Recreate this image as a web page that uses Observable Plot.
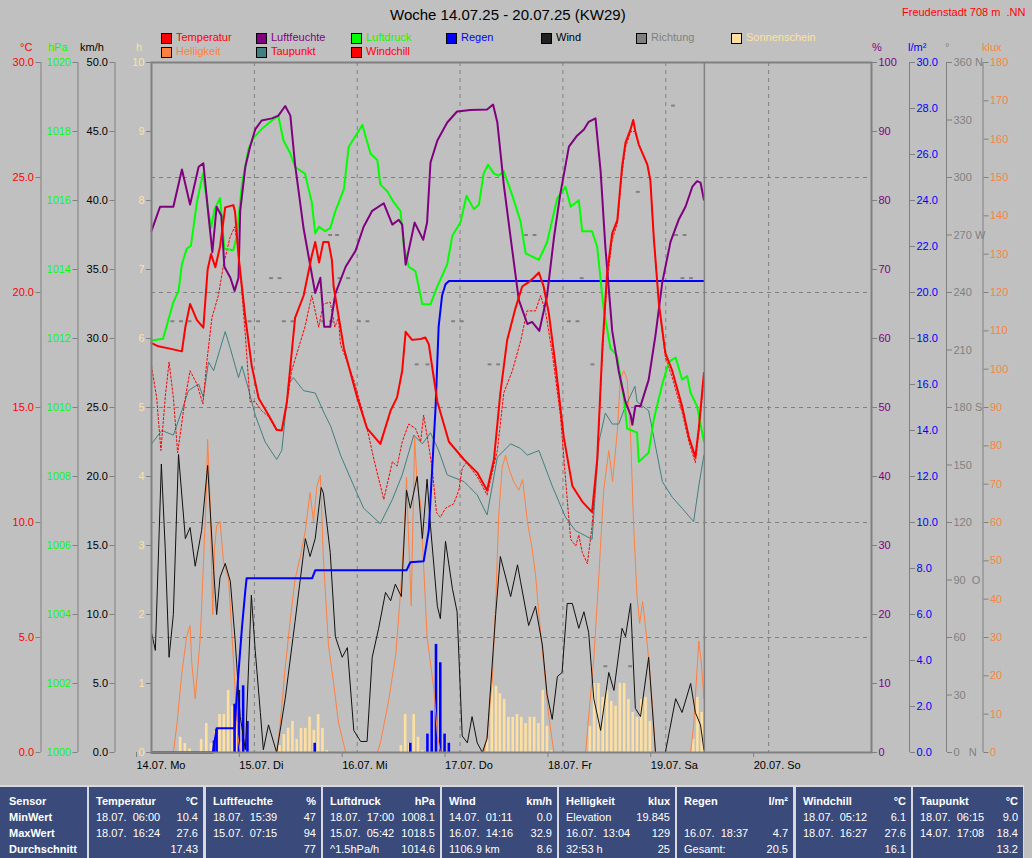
<!DOCTYPE html>
<html><head><meta charset="utf-8">
<script src="https://cdn.jsdelivr.net/npm/d3@7"></script>
<script src="https://cdn.jsdelivr.net/npm/@observablehq/plot@0.6"></script>
<style>
html,body{margin:0;padding:0;background:#c0c0c0;}
#wrap{position:relative;width:1032px;height:858px;overflow:hidden;font-family:"Liberation Sans",Arial,sans-serif;background:#c0c0c0;}
#wrap svg{position:absolute;left:0;top:0;display:block;}
.t{position:absolute;white-space:pre;font-size:11px;line-height:12px;}
.sq{position:absolute;width:9px;height:9px;border:1px solid #000;}
.cell{position:absolute;top:787px;height:71px;background:#3a4a7a;}
.tc{position:absolute;white-space:pre;font-size:11px;line-height:12px;color:#fff;}
</style></head><body><div id="wrap"></div>
<script>
// ---------------- DATA ----------------
const dayLabels = ["14.07. Mo","15.07. Di","16.07. Mi","17.07. Do","18.07. Fr","19.07. Sa","20.07. So"];
const dayTicks = [0,24,48,72,96,120,144];
const nowHour = 129;

// [hour since 14.07. 00:00, value]
const temperature = [[0,17.8],[1.6,17.66],[4,17.57],[7.1,17.44],[7.9,18.5],[9,19.5],[10.6,18.8],[12.1,18.47],[13.1,21.0],[13.9,21.67],[14.9,21.1],[16,22.0],[17.2,23.7],[19.1,23.8],[19.5,23.5],[20.3,21.6],[21.9,18.9],[23.4,16.8],[25,15.4],[27.3,14.67],[29.2,14.03],[30.4,14.0],[31.6,15.25],[33.5,18.9],[35.5,19.87],[37.4,21.6],[38.2,22.2],[39.1,21.3],[40.1,22.2],[41.3,22.2],[42.1,21.4],[42.5,20.26],[44.9,17.57],[48,15.44],[50.3,14.09],[53.4,13.42],[55.8,14.87],[57.3,15.44],[58.5,16.6],[59.3,18.29],[60.8,17.94],[62.8,17.98],[63.9,18.04],[64.7,17.75],[66.7,15.25],[69.4,13.51],[72.9,12.74],[76,12.17],[78.3,11.39],[79.9,12.74],[81.4,15.63],[83,17.94],[84.9,19.3],[86.5,20.26],[88,20.45],[89.2,20.64],[90.4,20.87],[91.5,20.26],[92.7,19.1],[94.3,16.8],[96.2,13.7],[98.2,11.59],[100.5,10.91],[102.8,10.45],[104,12.74],[105.2,17.57],[106.3,20.83],[107.5,22.57],[108.7,23.15],[109.8,25.46],[110.6,26.52],[111.8,27.1],[112.4,27.5],[112.9,27.0],[113.7,26.43],[115.7,25.56],[116.4,24.88],[117.2,22.38],[118.4,19.49],[119.9,17.37],[121.5,16.6],[123.8,15.06],[125.4,13.7],[126.9,12.84],[127.7,14.09],[128.9,16.5]];

const windchill = [[0,16.8],[1.2,15.44],[2.2,13.13],[3.2,15.44],[4.1,16.98],[5.1,15.44],[6.1,13.03],[7.9,15.44],[9,16.6],[10.6,16.02],[12,15.15],[12.9,16.98],[14.1,18.9],[15.6,19.87],[16.8,21.2],[18.3,22.38],[19.4,22.86],[20.3,21.8],[21.9,18.14],[23,15.25],[24.2,15.25],[25.7,14.86],[27.3,14.6],[29.2,14.0],[30.4,14.0],[31.6,15.2],[32.7,16.6],[35.8,18.5],[37.4,19.87],[39,18.5],[40.1,19.5],[41.7,19.58],[42.8,18.5],[43.6,18.9],[44.1,17.75],[47.2,16.2],[50.3,14.09],[51.9,12.74],[54.2,11.0],[56.2,12.64],[57.3,12.45],[58.5,13.51],[60,14.28],[61.6,14.09],[62.8,13.51],[63.5,14.67],[64.7,13.32],[65.5,12.36],[66.5,10.43],[67.4,10.23],[68.6,10.62],[70.5,10.81],[71.7,11.39],[72.5,12.36],[73.5,12.6],[76,12.0],[78.3,11.2],[80.7,13.13],[82.2,15.63],[84.2,16.6],[86.2,17.94],[87.6,19.2],[89.6,19.2],[90.8,19.87],[92,19.1],[93.5,17.37],[95.4,14.67],[97,11.0],[97.8,9.27],[99,8.98],[99.7,9.46],[100.5,8.7],[101.7,8.21],[102.8,9.85],[104,12.74],[105.2,17.3],[106.3,20.5],[107.5,22.3],[108.7,23.0],[109.8,25.2],[110.6,26.3],[111.8,27.0],[112.9,27.0],[113.7,26.43],[115.7,25.56],[116.4,24.88],[117.2,22.38],[118.4,19.49],[119.9,17.2],[121.5,16.3],[123.8,14.8],[125.4,13.5],[126.9,12.6],[127.7,13.9],[128.9,16.3]];

const dewpoint = [[0,13.42],[2.4,14.0],[5.1,13.8],[7.1,14.87],[8.6,15.73],[11,16.02],[12.1,15.44],[13.3,16.98],[14.5,16.6],[17.2,18.3],[18.4,17.57],[20.3,16.3],[21.1,16.8],[22.6,15.83],[24.2,14.67],[26.5,13.51],[29.2,12.74],[30.4,13.13],[32,16.02],[33.1,16.3],[35.5,15.73],[38.2,15.63],[40.5,14.67],[41.8,14.19],[44.1,12.93],[47.2,11.59],[49.5,10.62],[53.4,9.95],[56.2,11.0],[58.5,12.07],[61.2,13.8],[63.2,13.42],[65.1,13.9],[67,13.13],[69,12.07],[72.9,11.78],[76,11.2],[78.3,10.33],[80.7,12.84],[83.8,13.42],[86.1,13.22],[87.7,12.93],[90.4,13.13],[93.5,11.59],[96.6,10.23],[98.9,9.65],[102.8,9.27],[104.4,13.51],[105.9,14.76],[107.5,14.28],[109,14.28],[110.6,15.06],[112.8,15.92],[113.3,15.25],[116,14.86],[119.2,11.78],[121.5,11.1],[123.8,10.62],[126.5,10.04],[127.7,11.59],[128.9,12.93]];

const humidity = [[0,75.6],[2,79.1],[5.1,79.1],[7.1,84.5],[9,79.4],[11,84.9],[12.1,85.4],[13.3,77.8],[14.2,72.5],[15.2,79.1],[16.3,77.8],[17,70.4],[18.4,68.8],[19.4,66.9],[20.3,68.8],[20.7,78.5],[21.9,84.9],[23,87.8],[24.2,90.3],[25.7,91.6],[28.1,91.9],[29.6,92.3],[31.2,93.7],[32.4,92.3],[33.5,85.2],[35.5,75.9],[37,70.7],[38.2,66.6],[39.4,68.8],[40.3,61.7],[41.7,61.7],[42.9,66.5],[45.3,70.4],[47.6,72.7],[49.5,76.2],[51.5,78.5],[54.2,79.6],[56.2,76.5],[57.7,77.2],[58.5,76.5],[59.3,70.7],[61.4,76.8],[63.4,74.3],[64.3,76.8],[65.1,85.5],[66.7,88.7],[69,91.3],[71.3,92.9],[74.4,93.1],[78.3,93.2],[79.7,93.9],[80.7,91.3],[82.2,82.3],[83.8,74.6],[85.7,65.6],[87.7,62.1],[88.8,62.4],[90.5,61.1],[92.3,66.2],[93.9,74.6],[95.4,81.0],[97.4,87.8],[99.3,89.4],[100.9,90.3],[102,91.4],[103.6,91.9],[104.8,84.2],[105.9,73.3],[107.5,61.1],[109,55.3],[110.6,50.8],[111.8,48.9],[112.2,47.5],[112.9,50.2],[114.1,50.2],[116,54.0],[117.6,60.5],[119.2,68.2],[121.1,74.0],[123,77.2],[124.6,79.1],[126.2,82.0],[127.3,82.8],[128.1,82.6],[128.9,80.1]];

const pressure = [[0,1011.94],[2.7,1011.99],[5.1,1013.05],[6.3,1013.38],[7.1,1014.15],[8.2,1014.6],[9.2,1014.69],[10.6,1015.95],[12,1016.78],[13.1,1015.82],[13.9,1015.2],[14.7,1015.75],[16,1016.07],[17,1014.6],[19.1,1014.56],[19.9,1014.98],[21.1,1016.46],[22.6,1017.49],[23.8,1017.81],[25.7,1018.07],[28.1,1018.32],[29.6,1018.45],[30.8,1017.74],[32.4,1017.36],[33.5,1016.97],[35.8,1016.78],[37.4,1015.95],[38.2,1015.05],[39.1,1015.24],[40.5,1015.11],[41.7,1015.2],[42.9,1015.69],[44.9,1016.33],[46,1017.55],[47.6,1017.87],[49.2,1018.19],[51.1,1017.36],[52.7,1017.17],[53.4,1016.46],[55,1016.27],[56.5,1015.95],[58.1,1015.69],[58.9,1014.66],[60,1014.08],[61.6,1013.95],[63.2,1012.99],[65.1,1012.99],[66.7,1013.51],[69,1014.15],[70.2,1014.98],[72.1,1015.37],[73.5,1016.14],[75.2,1015.75],[76.4,1015.88],[77.5,1016.78],[78.5,1017.04],[79.9,1016.78],[81,1016.72],[82.2,1016.85],[84.2,1016.14],[86.1,1015.4],[87.3,1014.47],[90.4,1014.28],[92.3,1014.79],[94.7,1016.07],[96.6,1016.4],[97.8,1015.82],[99.7,1016.01],[100.5,1015.11],[102.8,1015.11],[104,1014.66],[105.5,1012.86],[107.1,1011.71],[108.6,1011.51],[110.2,1010.29],[111,1009.39],[113.3,1009.27],[113.7,1008.43],[116,1008.69],[117.2,1009.65],[119.2,1010.68],[120.7,1011.32],[122.3,1011.45],[123.8,1010.81],[125,1010.91],[125.8,1010.42],[127.3,1010.04],[128.9,1009.01]];

const wind = [[0,8.7],[0.9,7.4],[2.3,20.9],[3.2,14.8],[4.1,6.9],[5.1,10.0],[6.3,21.6],[7.9,15.5],[9,16.3],[10.2,13.5],[11.7,16.1],[13.1,20.8],[14.5,13.2],[15.2,10.0],[16,12.7],[17.2,13.7],[18.4,12.4],[19.5,8.2],[20.7,2.6],[21.9,0.2],[23.3,11.4],[24.2,7.4],[25.4,2.9],[26.1,0.2],[27.3,2.0],[29.2,0],[31.2,3.9],[33.5,9.5],[35.9,15.5],[37,14.2],[38.2,15.5],[39.6,19.2],[40.1,18.8],[41.7,14.5],[42.9,8.4],[44.5,6.9],[45.7,7.6],[47.2,1.6],[48.8,0.8],[50.3,0.8],[51.5,6.9],[53,9.0],[54.6,11.6],[55.8,11.0],[56.9,12.2],[58.3,11.3],[59.5,19.0],[60.4,17.7],[62,20.0],[63.2,15.5],[64.3,19.8],[65.1,16.4],[66.7,10.6],[67.4,9.7],[68.6,15.3],[70.2,11.9],[71.3,10.2],[72.5,1.2],[73.7,0.7],[74.8,2.6],[76,0.7],[77.2,0],[78.3,1.0],[80.3,10.0],[81.4,14.2],[83.8,11.3],[85.4,13.6],[86.1,12.4],[88,9.2],[89.6,10.6],[91.2,7.8],[92.3,4.2],[93.5,2.4],[94.7,5.5],[95.8,5.8],[97,10.8],[98.2,10.8],[99.7,9.0],[100.9,10.2],[102,8.7],[103.2,3.9],[104.8,1.6],[106.7,5.8],[107.9,4.5],[109.8,9.0],[110.6,8.4],[111.8,10.8],[112.9,3.2],[114.1,2.6],[116,6.9],[117.6,0],[119.9,0],[122.3,3.9],[123.8,2.9],[125.8,5.0],[126.9,2.9],[128.1,2.0],[128.9,0.2]];

const brightness = [[0,0],[5.1,0],[5.9,7.1],[7.1,20.9],[8.2,30.2],[9,33.1],[9.4,23.3],[10.2,14.0],[11.4,30.2],[12.1,48.7],[12.7,64.9],[13.1,81.7],[13.7,64.9],[14.3,36.0],[14.7,53.3],[15.2,59.1],[16,60.3],[16.8,49.8],[18,45.2],[19.1,24.4],[20.1,4.7],[20.7,0],[29.2,0],[30,7.1],[31.2,22.1],[32.4,34.8],[33.5,45.2],[34.7,51.0],[35.9,57.9],[37,67.8],[37.8,60.3],[38.6,69.5],[39.4,72.4],[40.1,51.0],[41.3,27.9],[42.5,18],[43.6,8],[45.3,0],[52.7,0],[53.4,2.4],[55.4,14.0],[57,25.6],[58.1,41.7],[59,57.9],[59.5,71.8],[60,55.6],[60.6,38.3],[61.4,82.2],[62,69.5],[62.8,64.9],[63.5,48.7],[64.3,30.2],[65.1,23.3],[65.9,16.3],[66.7,4.7],[67.4,0],[77.5,0],[78.3,4.7],[79.5,18.6],[80.3,38.3],[81,61.4],[81.8,74.1],[82.6,77.6],[83.4,74.1],[84.5,70.7],[85.7,68.4],[86.6,71.2],[87.7,60.3],[88.8,53.3],[89.6,46.4],[90.4,36.0],[91.5,23.3],[92.7,9.4],[93.9,0],[101.3,0],[102,9.4],[103.2,24.4],[104.4,46.4],[105.5,68.4],[106.7,78.8],[107.6,70.7],[108.7,84.0],[109.4,97.3],[110.2,99.6],[111,97.3],[111.8,82.2],[112.5,59.1],[113.3,40.6],[113.9,33.7],[114.6,39.4],[115.4,31.4],[116.2,22.1],[117,10.5],[117.6,0],[125.8,0],[126.5,7.1],[127.7,29.1],[128.3,23.3],[128.9,14.0]];

const rainTotal = [[0,0],[14.3,0],[15.2,1.05],[19.4,1.05],[19.7,1.93],[20.3,3.47],[21.1,5.42],[21.9,7.06],[22.2,7.58],[37.5,7.58],[38.2,7.92],[59.5,7.92],[60.4,8.27],[63.5,8.31],[64.7,9.66],[65.5,12.36],[66.3,15.06],[67,18.52],[67.8,19.87],[68.6,20.36],[69.4,20.5],[128.9,20.5]];

const rainHourly = [[14.7,0.5],[15.3,1.0],[19.5,2.1],[20.5,2.7],[21.5,2.9],[22.5,1.35],[38.2,0.4],[60.5,0.4],[64.5,0.8],[65.5,1.8],[66.5,4.7],[67.5,3.9],[68.5,0.8],[69.5,0.4]];

const sunshine = [[6.8,0.22],[7.9,0.13],[9.0,0.05],[11.7,0.19],[12.9,0.42],[14.0,0.13],[15.0,0.3],[16.0,0.55],[17.0,0.55],[18.0,0.9],[19.0,0.67],[20.0,0.45],[21.0,0.15],
[30,0.1],[31,0.26],[32,0.35],[33,0.45],[34,0.19],[35,0.35],[36,0.35],[37,0.51],[38,0.32],[39,0.55],[40,0.35],[41,0.03],
[58.3,0.1],[59.3,0.55],[60.3,0.13],[61.3,0.55],[62.3,0.22],[63.3,0.03],
[78.4,0.19],[79.5,1.0],[80.5,0.96],[81.4,0.85],[82.4,0.77],[83.4,0.51],[84.4,0.51],[85.4,0.55],[86.4,0.51],[87.4,0.42],[88.4,0.51],[89.4,0.51],[90.4,0.42],[91.4,0.9],[92.4,0.38],[93.4,0.03],
[102.4,0.38],[103.4,1.0],[104.4,1.0],[105.4,0.8],[106.4,0.9],[107.4,0.74],[108.4,0.67],[109.4,1.0],[110.4,1.0],[111.4,0.77],[112.4,0.58],[113.4,0.51],[114.4,0.77],[115.4,0.8],[116.4,0.45],
[126.5,0.19],[127.5,0.8],[128.5,0.58]];

const direction = [[5,225],[7,225],[9,225],[23,225],[25,225],[28,247.5],[30,247.5],[31,225],[33,225],[40,225],[42,225],[41.8,270],[43.4,270],[44,247.5],[46,247.5],[48.5,225],[50.5,225],[62,202.5],[64.5,202.5],[70.5,225],[72.5,225],[79,202.5],[81,202.5],[87.5,270],[89.5,270],[97.5,225],[99.5,225],[100.5,247.5],[103,202.5],[106,45],[111.8,45],[113.6,292.5],[121.8,337.5],[122.5,270],[124.5,270],[124,247.5],[126,247.5]];

// axis tick values (in units)
const tempTicks = [0,5,10,15,20,25,30];
const presTicks = [1000,1002,1004,1006,1008,1010,1012,1014,1016,1018,1020];
const windTicks = [0,5,10,15,20,25,30,35,40,45,50];
const sunTicks = [0,1,2,3,4,5,6,7,8,9,10];
const humTicks = [0,10,20,30,40,50,60,70,80,90,100];
const rainTicks = [0,2,4,6,8,10,12,14,16,18,20,22,24,26,28,30];
const dirTicks = [0,30,60,90,120,150,180,210,240,270,300,330,360];
const dirNames = {0:"0\u00a0\u00a0\u00a0N",90:"90\u00a0\u00a0O",180:"180\u00a0S",270:"270\u00a0W",360:"360\u00a0N"};
const luxTicks = [0,10,20,30,40,50,60,70,80,90,100,110,120,130,140,150,160,170,180];

// table
const tableHead = [["Sensor",""],["Temperatur","°C"],["Luftfeuchte","%"],["Luftdruck","hPa"],["Wind","km/h"],["Helligkeit","klux"],["Regen","l/m²"],["Windchill","°C"],["Taupunkt","°C"]];
const rowNames = ["MinWert","MaxWert","Durchschnitt"];
const tableRows = [
  [["18.07.  06:00","10.4"],["18.07.  15:39","47"],["18.07.  17:00","1008.1"],["14.07.  01:11","0.0"],["Elevation","19.845"],["",""],["18.07.  05:12","6.1"],["18.07.  06:15","9.0"]],
  [["18.07.  16:24","27.6"],["15.07.  07:15","94"],["15.07.  05:42","1018.5"],["16.07.  14:16","32.9"],["16.07.  13:04","129"],["16.07.  18:37","4.7"],["18.07.  16:27","27.6"],["14.07.  17:08","18.4"]],
  [["","17.43"],["","77"],["^1.5hPa/h","1014.6"],["1106.9 km","8.6"],["32:53 h","25"],["Gesamt:","20.5"],["","16.1"],["","13.2"]]
];

// ---------------- SCALES ----------------
const ranges = {temp:[0,30],hum:[0,100],pres:[1000,1020],wind:[0,50],sun:[0,10],rain:[0,30],dir:[0,360],lux:[0,180]};
const norm = k => v => (v - ranges[k][0]) / (ranges[k][1] - ranges[k][0]);
const denorm = (k, d) => Math.round((ranges[k][0] + d * (ranges[k][1] - ranges[k][0])) * 1000) / 1000;

const C = {temp:"#ff0000",hum:"#800080",pres:"#00ff00",rain:"#0000ff",wind:"#000000",dir:"#808080",sun:"#ffe0a0",lux:"#ff8040",dew:"#408080",grid:"#808080"};

function axis(k, ticks, fmt, color, anchor, dx) {
  return Plot.axisY({anchor, ticks: ticks.map(norm(k)), tickFormat: d => fmt(denorm(k, d)),
    dx, tickSize: 5, tickPadding: 2, stroke: C.grid, fill: color});
}
const line = (data, k, stroke, w, extra={}) => Plot.line(data, {x: d => d[0], y: d => norm(k)(d[1]), stroke, strokeWidth: w, ...extra});

const chart = Plot.plot({
  width: 1032, height: 785,
  marginLeft: 151, marginRight: 161, marginTop: 62, marginBottom: 33,
  x: {domain: [0, 168]},
  y: {domain: [0, 1]},
  style: {background: "transparent", fontFamily: "Liberation Sans, Arial, sans-serif", fontSize: "11px", color: "#000", overflow: "visible"},
  marks: [
    // grid
    Plot.ruleY([5,10,15,20,25].map(norm("temp")), {stroke: C.grid, strokeDasharray: "4,4"}),
    Plot.ruleX(dayTicks.slice(1).concat([168]).slice(0,6), {stroke: C.grid, strokeDasharray: "4,4"}),
    // extra axis lines
    Plot.ruleX([0], {dx: -110.5, stroke: C.grid}),
    Plot.ruleX([0], {dx: -73.5, stroke: C.grid}),
    Plot.ruleX([0], {dx: -36.5, stroke: C.grid}),
    Plot.ruleX([168], {dx: 38, stroke: C.grid}),
    Plot.ruleX([168], {dx: 75, stroke: C.grid}),
    Plot.ruleX([168], {dx: 111.5, stroke: C.grid}),
    // bars
    Plot.rect(sunshine, {x1: d => d[0] - 0.3, x2: d => d[0] + 0.3, y1: 0, y2: d => norm("sun")(d[1]), fill: C.sun}),
    Plot.rect(rainHourly, {x1: d => d[0] - 0.3, x2: d => d[0] + 0.3, y1: 0, y2: d => norm("rain")(d[1]), fill: C.rain}),
    Plot.ruleY(direction, {y: d => norm("dir")(d[1]), x1: d => d[0] - 0.45, x2: d => d[0] + 0.45, stroke: C.dir, strokeWidth: 2}),
    // lines
    line(brightness, "lux", C.lux, 1),
    line(wind, "wind", "#101010", 1),
    line(dewpoint, "temp", C.dew, 1),
    line(windchill, "temp", C.temp, 1, {strokeDasharray: "2,2"}),
    line(rainTotal, "rain", C.rain, 2),
    line(pressure, "pres", C.pres, 2),
    line(humidity, "hum", C.hum, 2),
    line(temperature, "temp", C.temp, 2),
    Plot.ruleX([nowHour], {stroke: C.grid, strokeWidth: 1.5}),
    Plot.frame({stroke: C.grid, strokeWidth: 2}),
    // axes
    axis("temp", tempTicks, v => v.toFixed(1), C.temp, "left", -110.5),
    axis("pres", presTicks, v => String(v), C.pres, "left", -73.5),
    axis("wind", windTicks, v => v.toFixed(1), "#000", "left", -36.5),
    axis("sun", sunTicks, v => String(v), C.sun, "left", 0),
    axis("hum", humTicks, v => String(v), C.hum, "right", 0),
    axis("rain", rainTicks, v => v.toFixed(1), C.rain, "right", 38),
    axis("dir", dirTicks, v => dirNames[v] || String(v), C.dir, "right", 75),
    axis("lux", luxTicks, v => String(v), C.lux, "right", 111.5),
    Plot.axisX({ticks: dayTicks, tickFormat: d => dayLabels[d / 24], textAnchor: "start", dx: -15, tickSize: 5, tickPadding: 4, stroke: C.grid, fill: "#000"})
  ]
});

const wrap = document.getElementById("wrap");
wrap.appendChild(chart);

function txt(s, x, y, color, extra = "") {
  const d = document.createElement("div");
  d.className = "t"; d.textContent = s;
  d.style.cssText += `left:${x}px;top:${y}px;color:${color};${extra}`;
  wrap.appendChild(d); return d;
}
// title
txt("Woche 14.07.25 - 20.07.25 (KW29)", 390, 6, "#000", "font-size:15px;line-height:17px;");
txt("Freudenstadt 708 m  .NN", 902, 6, "#ff0000");
// legend
const legend = [
  ["Temperatur", C.temp, C.temp, 161, 0], ["Luftfeuchte", C.hum, C.hum, 256, 0], ["Luftdruck", C.pres, C.pres, 351, 0], ["Regen", C.rain, C.rain, 446, 0],
  ["Wind", "#202020", "#000", 541, 0], ["Richtung", C.dir, C.dir, 636, 0], ["Sonnenschein", C.sun, C.sun, 731, 0],
  ["Helligkeit", C.lux, C.lux, 161, 1], ["Taupunkt", C.dew, C.temp, 256, 1], ["Windchill", C.temp, C.temp, 351, 1]
];
legend.forEach(([s, box, col, x, r]) => {
  const q = document.createElement("div"); q.className = "sq";
  q.style.cssText += `left:${x}px;top:${33 + r * 14}px;background:${box};`;
  wrap.appendChild(q);
  txt(s, x + 15, 31 + r * 14, col);
});
// units
[["°C",20,C.temp],["hPa",48,C.pres],["km/h",80,"#000"],["h",136,C.sun],["%",872,C.hum],["l/m²",908,C.rain],["°",945,C.dir],["klux",982,C.lux]]
  .forEach(([s, x, c]) => txt(s, x, 41, c));

// table
const cols = [[0,87],[89,203],[206,321],[323,440],[442,557],[559,675],[677,793],[796,911],[913,1023]];
const bg = document.createElement("div");
bg.style.cssText = "position:absolute;left:0;top:785px;width:1024px;height:73px;background:#d8d8e0;";
wrap.appendChild(bg);
const rowTop = [795, 811, 827, 843];
function tc(s, x, y, bold, right) {
  const d = document.createElement("div"); d.className = "tc"; d.textContent = s;
  d.style.cssText += (right ? `right:${1032 - x}px;` : `left:${x}px;`) + `top:${y}px;` + (bold ? "font-weight:bold;" : "");
  wrap.appendChild(d);
}
cols.forEach(([a, b], i) => {
  const c = document.createElement("div"); c.className = "cell";
  c.style.left = a + "px"; c.style.width = (b - a) + "px";
  wrap.appendChild(c);
  const pad = i === 0 ? 9 : 7;
  tc(tableHead[i][0], a + pad, rowTop[0], true, false);
  if (tableHead[i][1]) tc(tableHead[i][1], b - 5, rowTop[0], true, true);
  if (i === 0) rowNames.forEach((r, j) => tc(r, a + pad, rowTop[j + 1], true, false));
  else tableRows.forEach((row, j) => {
    const [l, v] = row[i - 1];
    if (l) tc(l, a + pad, rowTop[j + 1], false, false);
    if (v) tc(v, b - 5, rowTop[j + 1], false, true);
  });
});
</script></body></html>
